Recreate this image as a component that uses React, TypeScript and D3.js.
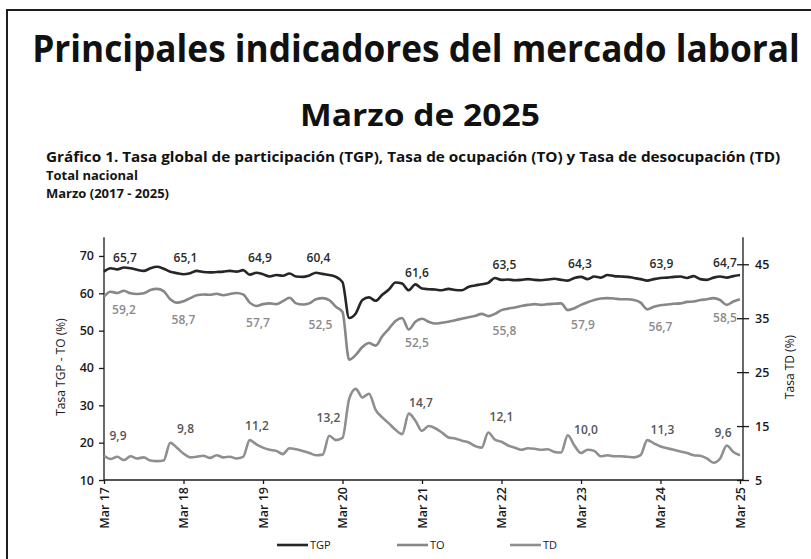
import React, { useEffect, useRef } from 'react';
import * as d3 from 'd3';

// Monthly series, Mar 2017 (index 0) .. Mar 2025 (index 96)
const tgp = [
  65.8, 66.7, 66.4, 66.9, 66.7, 66.3, 66.0, 66.7, 67.1, 66.6,
  65.8, 65.4, 65.1, 65.4, 66.0, 65.7, 65.6, 65.7, 65.8, 66.0, 65.8, 66.2,
  65.0, 65.5, 65.1, 64.5, 64.9, 64.7, 65.3, 64.5, 64.4, 64.8, 65.5, 65.2,
  64.9, 64.4, 63.0, 53.4, 54.6, 58.2, 58.9, 58.0, 59.6, 61.0, 62.9, 62.6,
  60.8, 62.4, 61.3, 61.1, 61.0, 60.8, 61.2, 60.9, 60.8, 61.7, 62.1, 62.4,
  62.8, 64.1, 63.6, 63.7, 63.5, 63.6, 63.8, 63.6, 63.5, 63.7, 63.9, 63.6,
  63.4, 64.1, 64.4, 63.8, 64.5, 64.2, 64.9, 64.6, 64.5, 64.4, 64.1, 63.8,
  63.4, 63.8, 64.1, 64.2, 64.4, 64.5, 64.1, 64.6, 63.8, 63.6, 64.2, 64.5,
  64.2, 64.6, 64.9,
];

const to = [
  59.1, 60.4, 60.1, 60.7, 60.0, 59.8, 60.0, 60.9, 61.2, 60.6,
  58.4, 57.5, 57.9, 58.7, 59.5, 59.7, 59.6, 59.9, 59.5, 59.8, 60.1, 59.7,
  57.5, 56.6, 57.1, 57.3, 57.1, 57.9, 58.8, 57.3, 57.0, 57.3, 58.4, 58.7,
  58.2, 56.4, 55.0, 42.2, 43.5, 45.6, 46.7, 46.0, 48.5, 50.5, 52.6, 53.4,
  50.3, 52.4, 53.2, 52.4, 51.9, 52.1, 52.4, 52.8, 53.2, 53.6, 53.9, 54.5,
  53.9, 54.5, 55.5, 55.9, 56.2, 56.6, 56.9, 57.1, 56.9, 57.1, 57.2, 57.3,
  55.5, 56.0, 56.9, 57.6, 58.2, 58.6, 58.7, 58.6, 58.4, 58.4, 58.2, 57.5,
  55.7, 56.4, 56.8, 57.0, 57.2, 57.3, 57.7, 57.8, 58.2, 58.4, 58.7, 58.2,
  56.9, 57.8, 58.4,
];

const td = [
  9.5, 8.9, 9.3, 8.7, 9.4, 9.0, 9.2, 8.6, 8.5, 8.6,
  11.9, 11.0, 9.9, 9.2, 9.3, 9.5, 9.1, 9.6, 9.2, 9.3, 9.0, 9.3,
  12.4, 11.6, 11.0, 10.6, 10.4, 9.8, 10.9, 10.7, 10.4, 10.0, 9.6, 9.7,
  13.2, 12.4, 12.8, 20.0, 21.9, 20.3, 21.0, 18.0, 16.6, 15.5, 14.3, 13.5,
  17.3, 16.0, 14.1, 15.0, 14.6, 13.8, 12.9, 12.7, 12.3, 12.0, 11.3, 11.0,
  13.8, 12.5, 12.1, 11.4, 11.0, 10.6, 10.9, 10.8, 10.6, 10.7, 10.2, 10.1,
  13.3, 11.4, 10.0, 10.6, 10.4, 9.4, 9.6, 9.4, 9.4, 9.3, 9.2, 9.6,
  12.4, 11.8, 11.2, 10.9, 10.6, 10.3, 10.0, 9.6, 9.5, 9.0, 8.2, 9.0,
  11.4, 10.2, 9.6,
];

// March labels (one per year)
const yearTicks = ['Mar 17', 'Mar 18', 'Mar 19', 'Mar 20', 'Mar 21', 'Mar 22', 'Mar 23', 'Mar 24', 'Mar 25'];
const tgpLabels = ['65,7', '65,1', '64,9', '60,4', '61,6', '63,5', '64,3', '63,9', '64,7'];
const toLabels = ['59,2', '58,7', '57,7', '52,5', '52,5', '55,8', '57,9', '56,7', '58,5'];
const tdLabels = ['9,9', '9,8', '11,2', '13,2', '14,7', '12,1', '10,0', '11,3', '9,6'];
const leftTicks = [10, 20, 30, 40, 50, 60, 70];
const rightTicks = [5, 15, 25, 35, 45];

// label offsets (px) relative to the point they annotate
const tgpOff = [[21, -14], [2, -16], [-3, -16], [-24, -24], [-5, -16], [3, -15], [-1, -13], [1, -14], [-15, -12]];
const toOff = [[20, 13], [0, 19], [-5, 19], [-22, 13], [-5, 24], [3, 21], [2, 20], [0, 22], [-15, 19]];
const tdOff = [[14, -20], [2, -25], [-6, -22], [-14, -20], [-1, -28], [0, -25], [5, -23], [2, -17], [-17, -22]];

const FONT = '"Open Sans", "DejaVu Sans", sans-serif';

export default function App() {
  const svgRef = useRef<SVGSVGElement>(null);

  useEffect(() => {
    const svg = d3.select(svgRef.current);
    svg.selectAll('*').remove();

    const left = 104, right = 743, top = 237.3, bottom = 480;

    const x = d3.scaleLinear().domain([0, 96]).range([104, 740]);
    const yL = d3.scaleLinear().domain([10, 75]).range([bottom, top]);
    const yR = d3.scaleLinear().domain([5, 50]).range([bottom, top]);

    svg.append('rect').attr('width', 811).attr('height', 559).attr('fill', '#fff');
    // frame
    svg.append('rect')
      .attr('x', 7).attr('y', 10).attr('width', 820).attr('height', 600)
      .attr('fill', 'none').attr('stroke', '#1e1e1e').attr('stroke-width', 2);

    // text squeezed horizontally to a target width (narrow font look)
    const fitText = (str: string, cx: number, y: number, width: number, size: number, anchor: string) => {
      const t = svg.append('text')
        .attr('x', 0).attr('y', 0).attr('text-anchor', anchor)
        .style('font-family', FONT).style('font-weight', 700).style('font-size', `${size}px`)
        .attr('fill', '#111')
        .text(str);
      const w = (t.node() as SVGTextElement).getComputedTextLength();
      t.attr('transform', `translate(${cx},${y}) scale(${width / w},1)`);
      return t;
    };

    fitText('Principales indicadores del mercado laboral', 416, 62, 768, 37, 'middle');
    fitText('Marzo de 2025', 420, 126, 240, 31, 'middle');

    fitText('Gráfico 1. Tasa global de participación (TGP), Tasa de ocupación (TO) y Tasa de desocupación (TD)',
      46, 162, 735, 13.5, 'start');
    ['Total nacional', 'Marzo (2017 - 2025)'].forEach((h, k) => {
      svg.append('text')
        .attr('x', 46).attr('y', 180 + k * 18)
        .style('font-family', FONT).style('font-weight', 700).style('font-size', '13px')
        .attr('fill', '#151515')
        .text(h);
    });

    // axes
    const axL = svg.append('g').attr('transform', `translate(${left},0)`)
      .call(d3.axisLeft(yL).tickValues(leftTicks).tickSize(5).tickSizeOuter(0));
    axL.select('.domain').attr('d', `M0,${top}V${bottom}`);
    axL.selectAll('text').attr('dx', '-2');

    const axR = svg.append('g').attr('transform', `translate(${right},0)`)
      .call(d3.axisRight(yR).tickValues(rightTicks).tickSize(6).tickSizeOuter(0));
    axR.select('.domain').attr('d', `M0,${top}V${bottom}`);
    axR.selectAll('.tick line').attr('x1', -6);
    axR.selectAll('text').attr('dx', '3');

    const axB = svg.append('g').attr('transform', `translate(0,${bottom})`)
      .call(d3.axisBottom(x).tickValues(d3.range(0, 97, 12)).tickSize(4).tickSizeOuter(0)
        .tickFormat((d, i) => yearTicks[i]));
    axB.select('.domain').attr('d', `M${left},0H${right}`);
    axB.selectAll('text')
      .attr('transform', 'rotate(-90)')
      .attr('x', -7).attr('y', 0).attr('dy', '0.35em')
      .style('text-anchor', 'end');

    [axL, axR, axB].forEach(a => {
      a.selectAll('path, line').attr('stroke', '#1a1a1a').attr('stroke-width', 1.3);
      a.selectAll('text').style('font-family', FONT).style('font-size', '12.5px')
        .style('font-weight', 600).attr('fill', '#1a1a1a');
    });

    // axis titles
    svg.append('text')
      .attr('transform', 'translate(65,367) rotate(-90)').attr('text-anchor', 'middle')
      .style('font-family', FONT).style('font-size', '12px').attr('fill', '#1a1a1a')
      .text('Tasa TGP - TO (%)');
    svg.append('text')
      .attr('transform', 'translate(794,367) rotate(-90)').attr('text-anchor', 'middle')
      .style('font-family', FONT).style('font-size', '12px').attr('fill', '#1a1a1a')
      .text('Tasa TD (%)');

    // lines
    const lineL = d3.line<number>().x((_, i) => x(i)).y(d => yL(d)).curve(d3.curveMonotoneX);
    const lineR = d3.line<number>().x((_, i) => x(i)).y(d => yR(d)).curve(d3.curveMonotoneX);

    const series = [
      { data: tgp, line: lineL, color: '#262626' },
      { data: to, line: lineL, color: '#878787' },
      { data: td, line: lineR, color: '#8f8f8f' },
    ];
    series.forEach(s => {
      svg.append('path').datum(s.data).attr('d', s.line)
        .attr('fill', 'none').attr('stroke', s.color).attr('stroke-width', 2.6)
        .attr('stroke-linejoin', 'round');
    });

    // data labels
    const addLabels = (labels: string[], off: number[][], data: number[], y: d3.ScaleLinear<number, number>, color: string) => {
      labels.forEach((lab, k) => {
        const i = k * 12;
        svg.append('text')
          .attr('x', x(i) + off[k][0]).attr('y', y(data[i]) + off[k][1])
          .attr('text-anchor', 'middle').attr('dy', '0.35em')
          .style('font-family', FONT).style('font-size', '12px').style('font-weight', 600)
          .attr('fill', color)
          .text(lab);
      });
    };
    addLabels(tgpLabels, tgpOff, tgp, yL, '#2a2a2a');
    addLabels(toLabels, toOff, to, yL, '#8a8a8a');
    addLabels(tdLabels, tdOff, td, yR, '#555');

    // legend
    const legend = [
      { name: 'TGP', color: '#262626', x: 277 },
      { name: 'TO', color: '#878787', x: 397 },
      { name: 'TD', color: '#8f8f8f', x: 510 },
    ];
    legend.forEach(l => {
      svg.append('line').attr('x1', l.x).attr('x2', l.x + 31).attr('y1', 545).attr('y2', 545)
        .attr('stroke', l.color).attr('stroke-width', 2.6);
      svg.append('text').attr('x', l.x + 33).attr('y', 545).attr('dy', '0.35em')
        .style('font-family', FONT).style('font-size', '11px').attr('fill', '#1a1a1a')
        .text(l.name);
    });
  }, []);

  return (
    <svg ref={svgRef} width={811} height={559}
      style={{ position: 'absolute', left: 0, top: 0, background: '#fff' }} />
  );
}
